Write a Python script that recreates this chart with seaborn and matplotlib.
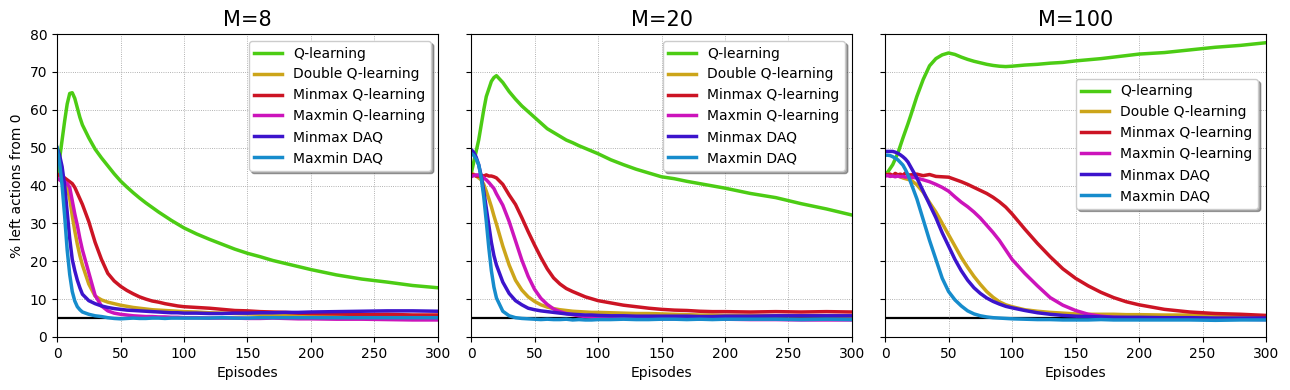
import matplotlib
matplotlib.use("Agg")
import matplotlib.pyplot as plt
import seaborn as sns
import pandas as pd

# Episode grid the curves were read at
EPISODES = [0, 2, 4, 6, 8, 10, 12, 14, 16, 18, 20, 25, 30, 35, 40, 45, 50, 55, 60, 65, 70,
            75, 80, 85, 90, 95, 100, 110, 120, 130, 140, 150, 160, 170, 180, 190, 200,
            220, 240, 260, 280, 300]

METHODS = ['Q-learning', 'Double Q-learning', 'Minmax Q-learning',
           'Maxmin Q-learning', 'Minmax DAQ', 'Maxmin DAQ']
COLORS = ['#4ccc14', '#cca51a', '#cc1424', '#cc14bb', '#3c14cc', '#168ccc']
PANELS = ['M=8', 'M=20', 'M=100']
OPTIMAL = 5

# M=8
q_m8 = [43, 47, 52, 57, 61.5, 64.3, 64.5, 63, 60.5, 58, 56, 52.6, 49.6, 47.3, 45.2, 43.1,
        41.2, 39.6, 38.1, 36.7, 35.4, 34.2, 33, 31.9, 30.8, 29.8, 28.8, 27.2, 25.8, 24.5,
        23.2, 22.1, 21.2, 20.2, 19.4, 18.6, 17.8, 16.4, 15.3, 14.5, 13.6, 13]
dq_m8 = [43, 42.5, 42, 41, 39.5, 36.5, 32, 28, 24.5, 21.5, 19, 14, 10.8, 9.8, 9.2, 8.8, 8.4,
         8.1, 7.8, 7.6, 7.4, 7.2, 7.1, 7, 6.9, 6.8, 6.7, 6.6, 6.4, 6.3, 6.2, 6.1, 6, 6, 5.9,
         5.9, 5.8, 5.8, 5.8, 5.8, 5.7, 5.7]
minmaxq_m8 = [42.5, 43, 42.5, 42, 41.5, 41, 40.5, 39.5, 38, 36.5, 35, 30.5, 25, 20.5, 16.8,
              14.8, 13.4, 12.3, 11.4, 10.6, 10, 9.5, 9.2, 8.8, 8.5, 8.2, 8, 7.8, 7.6, 7.3, 7,
              6.9, 6.7, 6.6, 6.5, 6.3, 6.2, 6.1, 5.9, 6, 5.8, 5.8]
maxminq_m8 = [42, 41.5, 41, 41, 40.5, 39.5, 36, 32.5, 29.5, 26, 23, 17, 11, 8.2, 6.9, 6.3, 6,
              5.8, 5.6, 5.5, 5.4, 5.4, 5.3, 5.3, 5.2, 5.2, 5.1, 5.1, 5, 5, 5, 4.9, 4.9, 5, 4.9,
              4.8, 4.8, 4.7, 4.7, 4.6, 4.5, 4.5]
minmaxdaq_m8 = [50, 48, 45, 40, 33, 26, 20.5, 17.5, 15, 13, 11.3, 9.6, 8.8, 8.2, 7.8, 7.5, 7.3,
                7.1, 7, 6.9, 6.8, 6.7, 6.6, 6.5, 6.4, 6.4, 6.3, 6.3, 6.2, 6.2, 6.3, 6.3, 6.4,
                6.4, 6.5, 6.5, 6.6, 6.7, 6.8, 6.9, 6.9, 6.8]
maxmindaq_m8 = [50, 46, 40, 32, 23, 16.5, 12, 9.5, 8, 7.2, 6.6, 6, 5.6, 5.4, 5.1, 4.9, 4.8,
                4.9, 5, 4.9, 4.9, 5, 5, 4.9, 5, 5, 5, 5, 5, 5.1, 5, 5, 5.1, 5.1, 5.1, 5.1, 5.1,
                5.1, 5.1, 5.1, 5.1, 5.1]

# M=20
q_m20 = [43, 46, 49, 52, 56, 60, 63.5, 65.5, 67.5, 68.5, 69, 67.2, 64.8, 62.8, 61, 59.5, 58,
         56.5, 55, 54, 53, 52, 51.3, 50.5, 49.8, 49.1, 48.4, 46.8, 45.5, 44.3, 43.3, 42.3,
         41.8, 41.1, 40.5, 39.9, 39.3, 37.9, 36.8, 35.2, 33.8, 32.2]
dq_m20 = [43, 43, 42.5, 42, 41.5, 40.3, 38.5, 36.5, 34.4, 32, 29.8, 24, 19, 15, 12.4, 10.6,
          9.4, 8.5, 7.9, 7.5, 7.2, 7, 6.8, 6.7, 6.6, 6.5, 6.5, 6.4, 6.3, 6.2, 6.2, 6.1, 6,
          5.9, 5.8, 5.8, 5.7, 5.7, 5.6, 5.6, 5.6, 5.5]
minmaxq_m20 = [43, 42.8, 42.5, 42.5, 42.7, 42.5, 42.8, 42.5, 42.5, 42.3, 42, 40.3, 37.5, 35,
               31.5, 27.8, 24.3, 21, 18, 15.6, 14, 12.8, 12, 11.3, 10.6, 10.1, 9.6, 9, 8.4, 8,
               7.6, 7.3, 7.1, 7, 6.8, 6.7, 6.7, 6.6, 6.7, 6.6, 6.7, 6.6]
maxminq_m20 = [42.3, 42.6, 42.8, 42.8, 42.5, 42, 41.5, 40.8, 40, 39.2, 37.8, 34.8, 30.5, 25.4,
               20.3, 16, 12.6, 10.2, 8.6, 7.4, 6.7, 6.2, 5.9, 5.6, 5.4, 5.2, 5.1, 5, 4.9, 4.9,
               4.8, 4.8, 4.8, 4.7, 4.7, 4.7, 4.7, 4.6, 4.6, 4.5, 4.5, 4.5]
minmaxdaq_m20 = [49.5, 48.8, 47.5, 45.5, 42.5, 38.5, 34, 29.5, 25, 21.5, 19, 14.5, 11.5, 9.6,
                 8.5, 7.6, 7.2, 6.9, 6.7, 6.5, 6.3, 6.1, 6, 5.9, 5.8, 5.8, 5.7, 5.6, 5.6, 5.5,
                 5.5, 5.5, 5.5, 5.5, 5.4, 5.4, 5.5, 5.5, 5.6, 5.6, 5.6, 5.6]
maxmindaq_m20 = [48.5, 48, 47, 45.5, 42, 37, 30.5, 23.5, 17.5, 13.2, 10.3, 6.8, 5.6, 5.1, 4.9,
                 4.8, 4.7, 4.6, 4.7, 4.6, 4.6, 4.7, 4.5, 4.6, 4.5, 4.5, 4.6, 4.6, 4.7, 4.6,
                 4.6, 4.7, 4.7, 4.6, 4.7, 4.6, 4.7, 4.7, 4.7, 4.6, 4.7, 4.6]

# M=100
q_m100 = [43, 43.5, 44.5, 45.5, 47, 48.5, 50.5, 52.5, 54.4, 56.3, 58.3, 63.5, 68, 71.6, 73.5,
          74.5, 75, 74.6, 73.9, 73.3, 72.8, 72.4, 72, 71.7, 71.5, 71.4, 71.5, 71.8, 72, 72.3,
          72.5, 72.9, 73.2, 73.5, 73.9, 74.3, 74.7, 75.1, 75.8, 76.5, 77, 77.7]
dq_m100 = [43, 43, 42.8, 42.7, 42.6, 42.5, 42.3, 42, 41.8, 41.6, 41.5, 40.2, 38.2, 35.5, 33,
           30, 27, 24, 21, 18.4, 16, 13.9, 12, 10.5, 9.3, 8.5, 8, 7.2, 6.8, 6.5, 6.3, 6.1, 6,
           6, 6, 5.9, 5.9, 5.8, 5.8, 5.7, 5.6, 5.5]
minmaxq_m100 = [43, 42.8, 43, 42.6, 43.2, 42.8, 43, 42.7, 43.3, 42.8, 42.8, 43, 42.6, 42.9,
                42.4, 42.3, 42.2, 41.6, 41, 40.3, 39.5, 38.7, 37.9, 36.9, 35.7, 34.3, 32.5,
                28.5, 24.7, 21.2, 18, 15.5, 13.5, 11.8, 10.4, 9.3, 8.5, 7.3, 6.6, 6.2, 6, 5.7]
maxminq_m100 = [42.5, 42.6, 42.4, 42.5, 42.3, 42.5, 42.3, 42.4, 42.2, 42.3, 42.2, 42, 41.5, 41,
                40.3, 39.5, 38.5, 37, 35.6, 34.4, 33, 31.4, 29.5, 27.6, 25.5, 23, 20.5, 16.8,
                13.5, 10.4, 8.4, 7, 6, 5.5, 5.2, 5.1, 5, 4.9, 4.8, 4.7, 4.7, 4.6]
minmaxdaq_m100 = [49, 49, 49, 49, 48.8, 48.5, 48.1, 47.6, 47, 46.2, 45, 42, 38.5, 35, 31.5,
                  27.5, 24, 20.5, 17.5, 15, 13, 11.5, 10.3, 9.4, 8.7, 8.1, 7.7, 7, 6.4, 6,
                  5.7, 5.5, 5.4, 5.3, 5.2, 5.2, 5.2, 5.1, 5.1, 5, 5, 5]
maxmindaq_m100 = [48, 48, 47.9, 47.6, 47.2, 46.8, 46.1, 45.4, 44.2, 42.8, 41, 36.5, 31, 25.5,
                  20.5, 15.5, 12, 9.8, 8.2, 6.9, 6.1, 5.6, 5.3, 5.1, 5, 4.9, 4.8, 4.7, 4.6,
                  4.6, 4.5, 4.5, 4.5, 4.6, 4.5, 4.5, 4.5, 4.5, 4.5, 4.4, 4.5, 4.5]

SERIES = {
    'M=8': [q_m8, dq_m8, minmaxq_m8, maxminq_m8, minmaxdaq_m8, maxmindaq_m8],
    'M=20': [q_m20, dq_m20, minmaxq_m20, maxminq_m20, minmaxdaq_m20, maxmindaq_m20],
    'M=100': [q_m100, dq_m100, minmaxq_m100, maxminq_m100, minmaxdaq_m100, maxmindaq_m100],
}

fig, axes = plt.subplots(1, 3, figsize=(12.9, 3.9), dpi=100, sharey=True)
fig.subplots_adjust(left=0.0442, right=0.9814, top=0.9128, bottom=0.1359, wspace=0.087)

for ax, panel in zip(axes, PANELS):
    ax.axhline(OPTIMAL, color='black', lw=1.6, zorder=1.5)
    for name, color, vals in zip(METHODS, COLORS, SERIES[panel]):
        df = pd.DataFrame({'episode': EPISODES, 'pct': vals})
        sns.lineplot(data=df, x='episode', y='pct', ax=ax, color=color, lw=2.5,
                     label=name, zorder=2)
    ax.set_xlim(0, 300)
    ax.set_ylim(0, 80)
    ax.set_xticks(range(0, 301, 50))
    ax.set_yticks(range(0, 81, 10))
    ax.grid(True, linestyle=':', color='#999999', lw=0.6)
    ax.set_title(panel, fontsize=15)
    ax.set_xlabel('Episodes')
    ax.set_ylabel('')
    if panel == 'M=100':
        ax.legend(loc='upper right', bbox_to_anchor=(0.997, 0.875), shadow=True,
                  fontsize=10, framealpha=1)
    else:
        ax.legend(loc='upper right', shadow=True, fontsize=10, framealpha=1)

axes[0].set_ylabel('% left actions from 0')

fig.savefig('out.png', dpi=100)
